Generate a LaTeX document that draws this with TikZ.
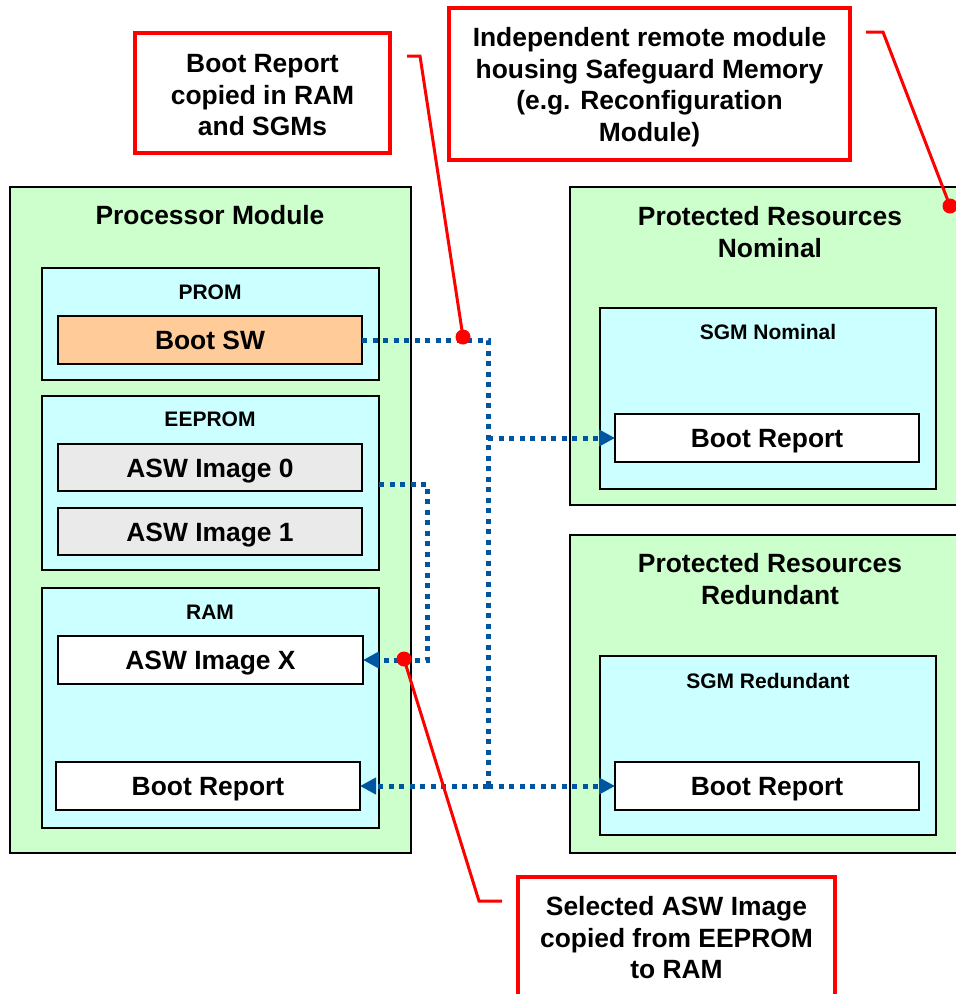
\documentclass[tikz,border=0pt]{standalone}
\usepackage{fontspec}
\setmainfont{Liberation Sans}
\usetikzlibrary{arrows.meta,calc}
\definecolor{pgreen}{RGB}{204,255,204}
\definecolor{pcyan}{RGB}{204,255,255}
\definecolor{porange}{RGB}{255,204,153}
\definecolor{pgray}{RGB}{234,234,234}
\definecolor{pblue}{RGB}{0,85,160}
\definecolor{pred}{RGB}{255,0,0}
\newcommand{\bigfont}{\fontsize{26.4}{31.5}\selectfont\bfseries}
\newcommand{\smallfont}{\fontsize{21}{25}\selectfont\bfseries}
\tikzset{
  boxbase/.style={draw=black, line width=2pt, inner sep=0pt, outer sep=0pt, anchor=north west},
  modbox/.style={boxbase, fill=pgreen},
  membox/.style={boxbase, fill=pcyan},
  leafbox/.style={boxbase, fill=white, font=\bigfont, text height=19pt, text depth=0pt},
  bigtext/.style={font=\bigfont, align=center, inner sep=0pt},
  smalltext/.style={font=\smallfont, inner sep=0pt, text height=15pt, text depth=0pt},
  callout/.style={draw=pred, line width=4pt, fill=white, font=\bigfont, align=center, inner sep=0pt},
  flow/.style={draw=pblue, line width=5pt, dash pattern=on 5pt off 5.5pt},
  tip/.style={-{Triangle[length=16pt,width=16pt,sep=0pt]}},
  redline/.style={draw=pred, line width=3pt},
  reddot/.style={circle, fill=pred, inner sep=0pt, minimum size=15pt},
}
\begin{document}
\begin{tikzpicture}[x=1pt,y=-1pt]
\path[use as bounding box, clip] (0,0) rectangle (956,994);

% Processor module
\node[modbox, minimum width=401pt, minimum height=666pt] (proc) at (10,187) {};
\node[bigtext, text height=19pt, text depth=0pt] (proct) at (210,215) {Processor Module};

\node[membox, minimum width=337pt, minimum height=112pt] (prom) at (42,268) {};
\node[smalltext] (promt) at (210,292) {PROM};
\node[leafbox, fill=porange, minimum width=304pt, minimum height=48pt] (bootsw) at (58,316) {Boot SW};

\node[membox, minimum width=337pt, minimum height=174pt] (eeprom) at (42,396) {};
\node[smalltext] (eepromt) at (210,419) {EEPROM};
\node[leafbox, fill=pgray, minimum width=304pt, minimum height=47pt] (asw0) at (58,444) {ASW Image 0};
\node[leafbox, fill=pgray, minimum width=304pt, minimum height=47pt] (asw1) at (58,508) {ASW Image 1};

\node[membox, minimum width=337pt, minimum height=240pt] (ram) at (42,588) {};
\node[smalltext] (ramt) at (210,612) {RAM};
\node[leafbox, minimum width=305pt, minimum height=48pt] (aswx) at (58,636) {ASW Image X};
\node[leafbox, minimum width=304pt, minimum height=48pt] (brram) at (56,762) {Boot Report};

% Protected resources nominal
\node[modbox, minimum width=405pt, minimum height=318pt] (prn) at (570,187) {};
\node[bigtext] (prnt) at (770,232) {Protected Resources\\Nominal};
\node[membox, minimum width=336pt, minimum height=181pt] (sgmn) at (600,308) {};
\node[smalltext] (sgmnt) at (768,332) {SGM Nominal};
\node[leafbox, minimum width=304pt, minimum height=48pt] (brn) at (615,414) {Boot Report};

% Protected resources redundant
\node[modbox, minimum width=405pt, minimum height=318pt] (prr) at (570,535) {};
\node[bigtext] (prrt) at (770,579) {Protected Resources\\Redundant};
\node[membox, minimum width=336pt, minimum height=179pt] (sgmr) at (600,656) {};
\node[smalltext] (sgmrt) at (768,681) {SGM Redundant};
\node[leafbox, minimum width=304pt, minimum height=48pt] (brr) at (615,762) {Boot Report};

% Blue flows
\coordinate (jt) at (488,340);
\coordinate (jm) at (488,438);
\coordinate (jb) at (488,786);
\draw[flow] (bootsw.east) -- (jt) -- (jb);
\draw[flow, tip] (jm) -- (brn.west);
\draw[flow, tip] (jb) -- (brr.west);
\draw[flow, tip] (jb) -- (brram.east);

\coordinate (ea) at (eeprom.east |- 0,484);
\coordinate (eb) at (427,484);
\coordinate (ec) at (eb |- aswx.east);
\draw[flow, tip] (ea) -- (eb) -- (ec) -- (aswx.east);

% Callouts
\node[callout, minimum width=255pt, minimum height=120pt] (co1) at (262.5,93) {\rule{0pt}{23pt}Boot Report\\copied in RAM\\and SGMs};
\node[callout, minimum width=401pt, minimum height=152pt] (co2) at (649.5,84) {\rule{0pt}{25pt}Independent remote module\\housing Safeguard Memory\\(e.g. Reconfiguration\\Module)};
\node[callout, minimum width=317pt, minimum height=122pt] (co3) at (676.5,938) {Selected ASW Image\\copied from EEPROM\\to RAM};

\node[reddot] (d1) at (463,337) {};
\node[reddot] (d2) at (950,206) {};
\node[reddot] (d3) at (404,659) {};

\coordinate (c1a) at (407,56);
\coordinate (c1b) at (420,56);
\draw[redline] (c1a) -- (c1b) -- (d1.center);
\coordinate (c2a) at (866,32);
\coordinate (c2b) at (883,32);
\draw[redline] (c2a) -- (c2b) -- (d2.center);
\coordinate (c3a) at (502,901);
\coordinate (c3b) at (479,901);
\draw[redline] (c3a) -- (c3b) -- (d3.center);
\end{tikzpicture}
\end{document}
